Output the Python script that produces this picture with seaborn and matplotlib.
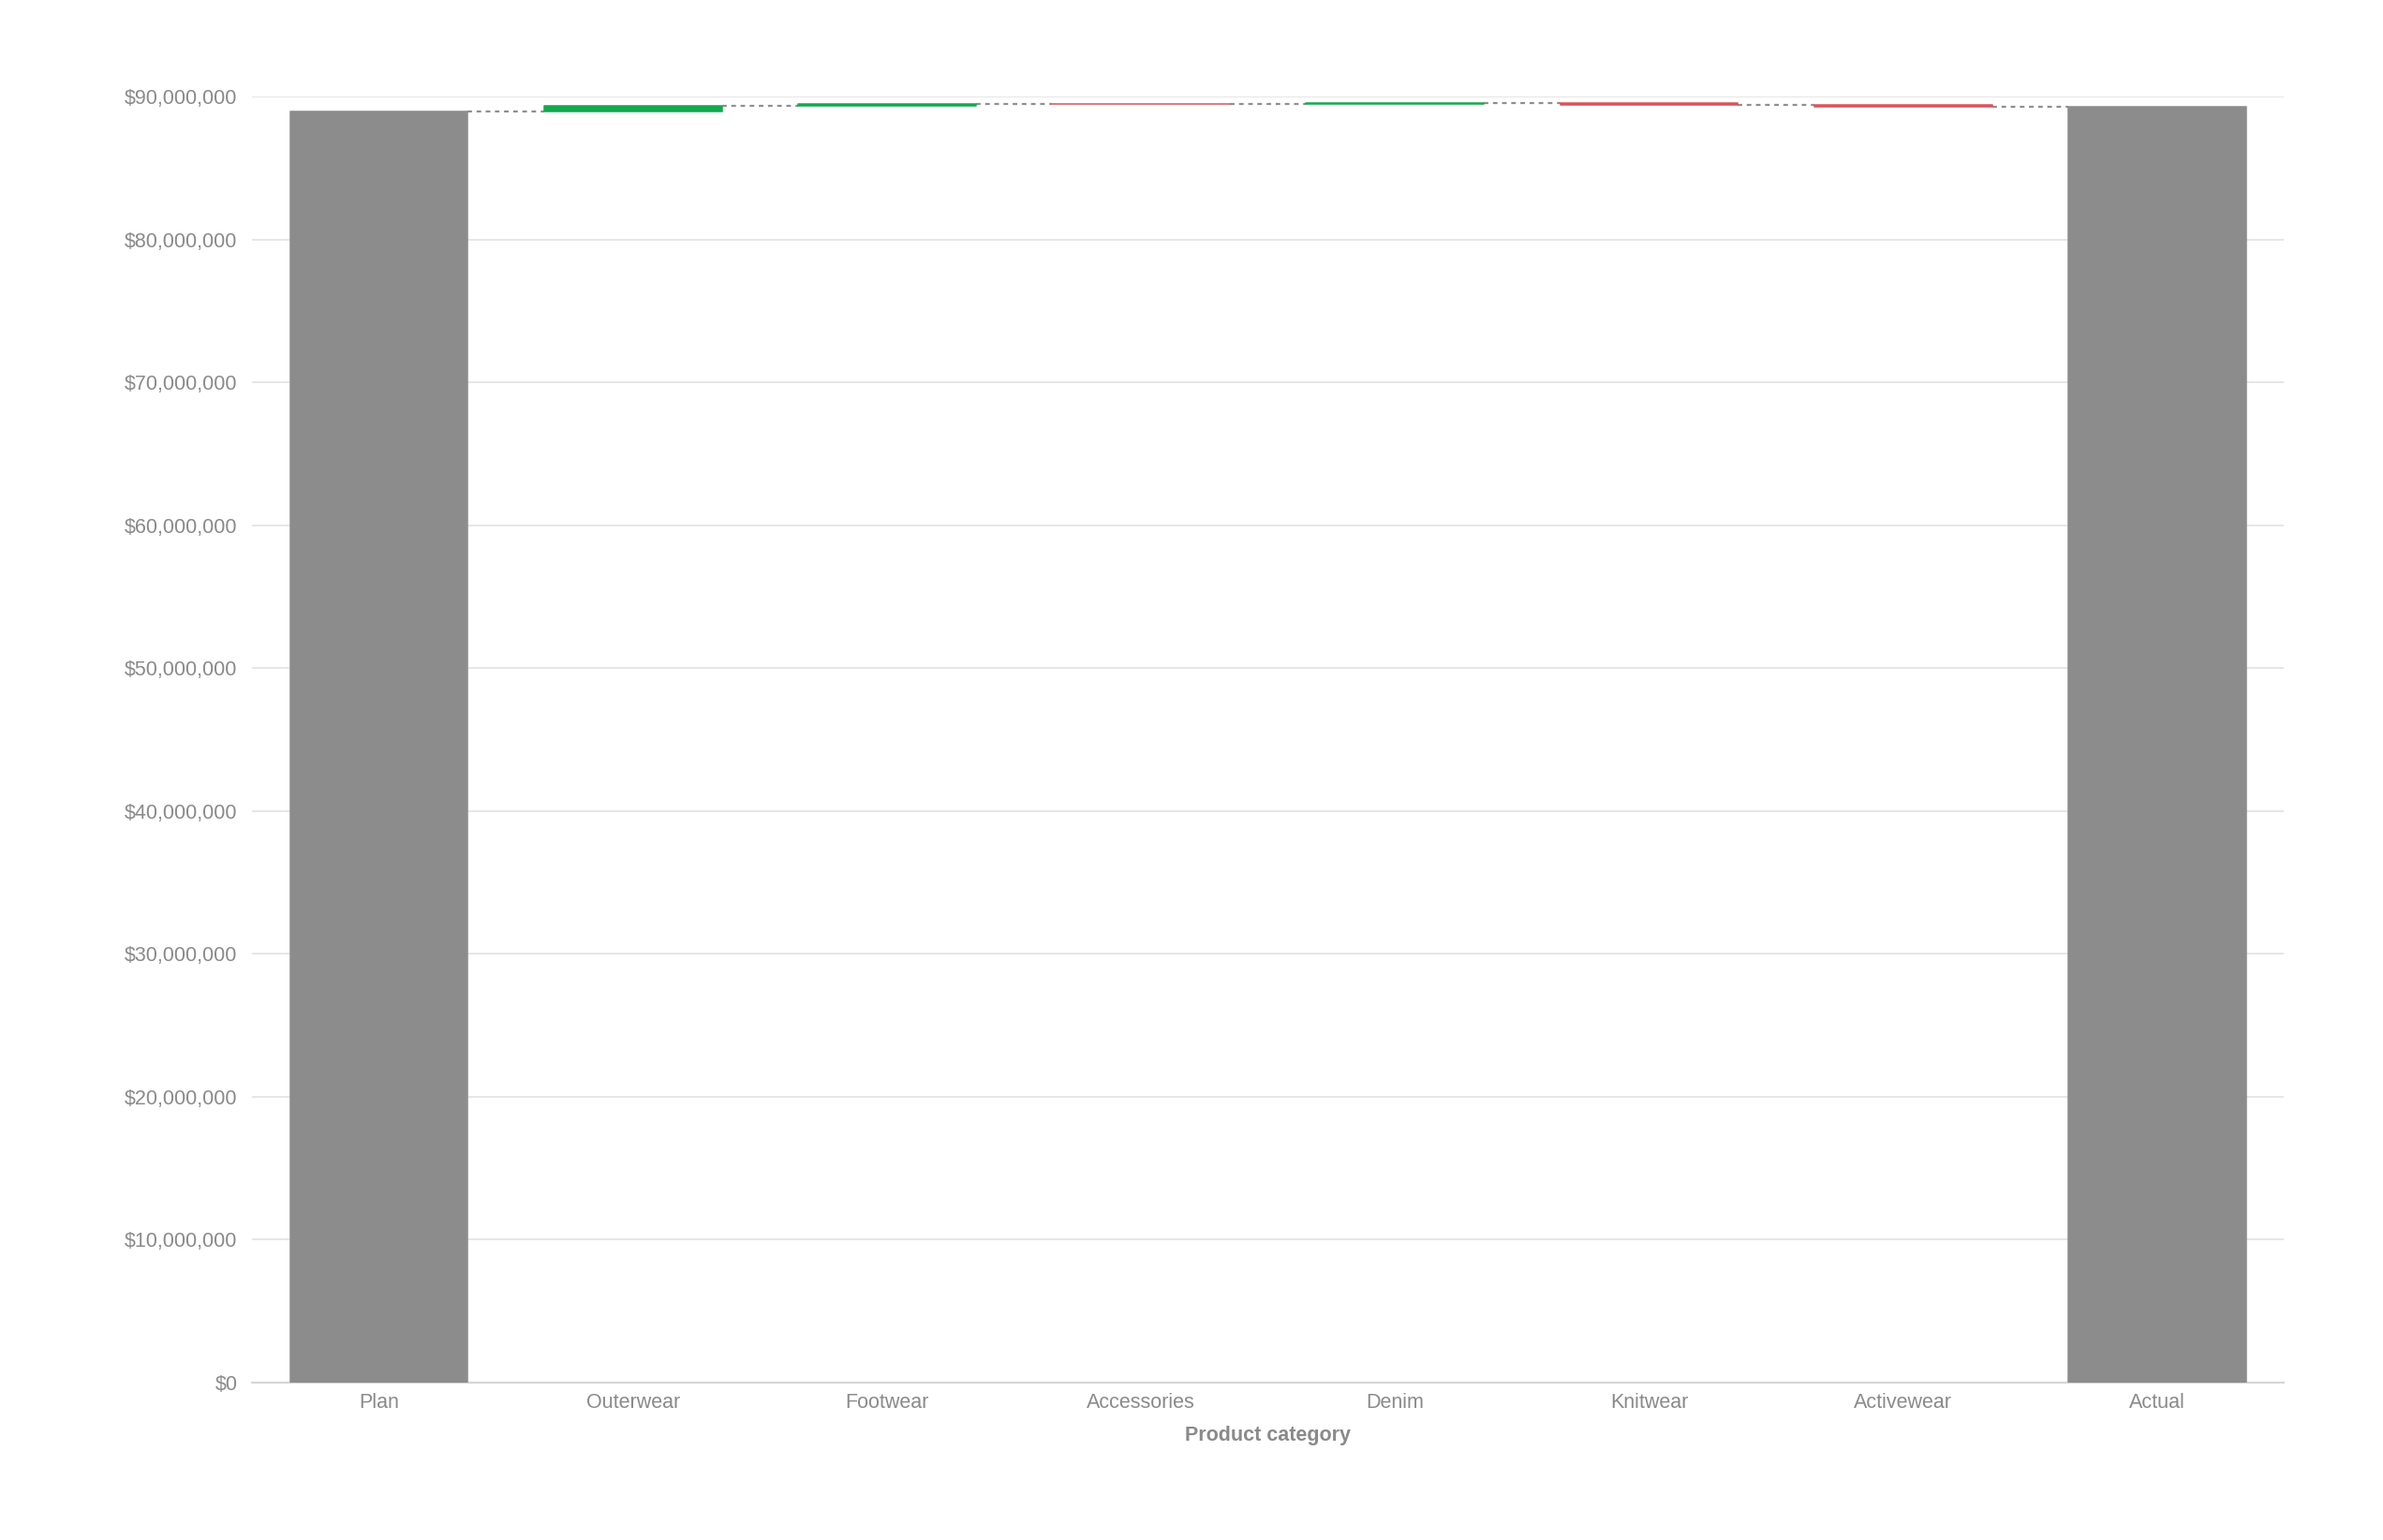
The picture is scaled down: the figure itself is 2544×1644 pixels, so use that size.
import numpy as np
import pandas as pd
import matplotlib
matplotlib.use("Agg")
import matplotlib.pyplot as plt
import seaborn as sns

# values
categories = ['Plan', 'Outerwear', 'Footwear', 'Accessories', 'Denim', 'Knitwear', 'Activewear', 'Actual']
plan_total = 88980000
changes = [390000, 130000, -20000, 90000, -120000, -130000]
actual_total = 89320000
y_ticks = [0, 10000000, 20000000, 30000000, 40000000, 50000000, 60000000, 70000000, 80000000, 90000000]

GRAY = '#8c8c8c'
GREEN = '#14a84f'
RED = '#d9545a'
TEXT = '#8a8a8a'

# running totals for the floating bars
running = [plan_total]
for c in changes:
    running.append(running[-1] + c)

bottoms = [0]
heights = [plan_total]
colors = [GRAY]
for i, c in enumerate(changes):
    bottoms.append(running[i] if c >= 0 else running[i + 1])
    heights.append(abs(c))
    colors.append(GREEN if c >= 0 else RED)
bottoms.append(0)
heights.append(actual_total)
colors.append(GRAY)

df = pd.DataFrame({'category': categories, 'height': heights})

sns.set_theme(style='white')
plt.rcParams['font.family'] = ['Liberation Sans', 'DejaVu Sans']

fig = plt.figure(figsize=(25.44, 16.44), dpi=100)
ax = fig.add_axes([0.1057, 0.1022, 0.8528, 0.835])

sns.barplot(data=df, x='category', y='height', order=categories, bottom=bottoms,
            width=0.7, color=GRAY, ax=ax, zorder=3)
for patch, col in zip(ax.patches, colors):
    patch.set_facecolor(col)
    patch.set_edgecolor(col)
    patch.set_linewidth(1.1)
    patch.set_joinstyle('round')

# dashed connectors between consecutive bars
levels = running + [actual_total]
for i in range(len(categories) - 1):
    ax.hlines(levels[i], i + 0.35, i + 1 - 0.35, colors='#8f8f8f', linestyles=(0, (2.2, 2.2)),
              linewidth=1.6, zorder=2)

ax.set_xlim(-0.5, len(categories) - 0.5)
ax.set_ylim(0, 90000000)
ax.set_yticks(y_ticks)
ax.set_yticklabels(['${:,.0f}'.format(v) for v in y_ticks])
ax.yaxis.grid(True, color='#e6e6e6', linewidth=1.4, zorder=0)
ax.set_axisbelow(True)

for side in ['top', 'right', 'left']:
    ax.spines[side].set_visible(False)
ax.spines['bottom'].set_color('#d6d6d6')
ax.spines['bottom'].set_linewidth(1.6)

ax.tick_params(axis='both', length=0, labelsize=15.5, labelcolor=TEXT)
ax.tick_params(axis='y', pad=11)
ax.tick_params(axis='x', pad=8)
ax.set_ylabel('')
ax.set_xlabel('Product category', fontsize=15.5, fontweight='bold', color=TEXT, labelpad=10)

fig.savefig('out.png', dpi=100, facecolor='white')
